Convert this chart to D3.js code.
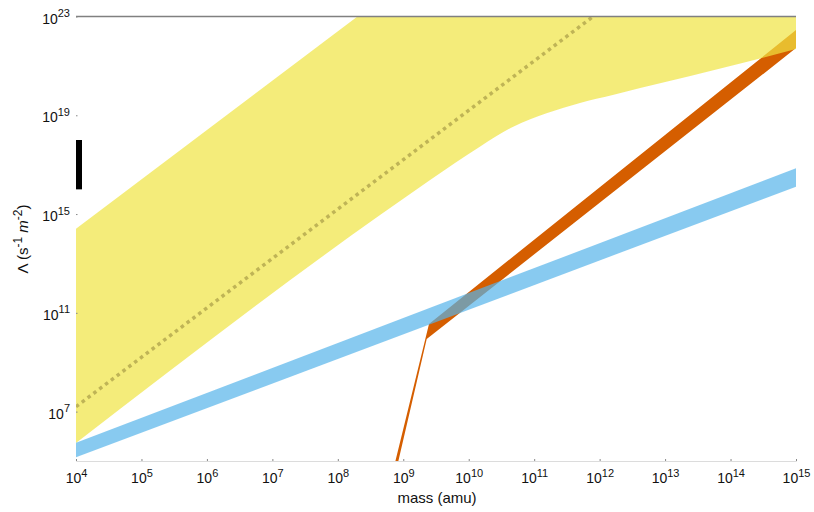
<!DOCTYPE html>
<html>
<head>
<meta charset="utf-8">
<script src="https://cdn.jsdelivr.net/npm/d3@7"></script>
<style>
  html, body { margin: 0; padding: 0; background: #fff; }
  svg { display: block; font-family: "Liberation Sans", Arial, Helvetica, sans-serif; }
</style>
</head>
<body>
<svg id="chart" width="814" height="512"></svg>
<script>
// Axis ticks (log10 exponents)
const massTickExps = [4, 5, 6, 7, 8, 9, 10, 11, 12, 13, 14, 15];
const rateTickExps = [7, 11, 15, 19, 23];

// Yellow region: [log10 mass, log10 rate]
const yellowLower = [[4, 5.73], [8.645, 14.96], [9.41, 16.38], [10.17, 17.73], [10.68, 18.54],
                     [11.20, 19.09], [11.70, 19.50], [12.20, 19.82], [12.62, 20.10], [14.15, 21.10], [15, 21.68]];
const yellowUpper = [[4, 14.41], [8.3, 23.0], [15, 23.0]];
// Central estimate (dotted)
const yellowCentral = [[4, 7.2], [11.9, 23.0]];

// Blue band
const blueLower = [[4, 5.15], [15, 16.11]];
const blueUpper = [[4, 5.74], [15, 16.85]];

// Orange band (steep rise, then linear growth)
const orangeLower = [[8.925, 5.0], [9.358, 9.94], [15, 21.72]];
const orangeUpper = [[8.88, 5.0], [9.393, 10.55], [15, 22.45]];

// Vertical bar at the low-mass end
const barMassExp = 4;
const barRangeExps = [16, 18];

const svg = d3.select("#chart");
const x = d3.scaleLog().domain([1e4, 1e15]).range([76, 796]);
const y = d3.scaleLog().domain([1e5, 1e23]).range([461, 16.5]);

const px = d => x(Math.pow(10, d[0]));
const py = d => y(Math.pow(10, d[1]));

svg.append("defs").append("clipPath").attr("id", "plot")
  .append("rect").attr("x", x.range()[0]).attr("y", y.range()[1])
  .attr("width", x.range()[1] - x.range()[0]).attr("height", y.range()[0] - y.range()[1]);

const plot = svg.append("g").attr("clip-path", "url(#plot)");
const lin = d3.line().x(px).y(py);

function band(lower, upper, curve) {
  const lowerPath = d3.line().x(px).y(py).curve(curve || d3.curveLinear)(lower);
  const upperPath = lin(upper.slice().reverse());
  return lowerPath + "L" + upperPath.slice(1) + "Z";
}

// Orange band
plot.append("path").attr("d", band(orangeLower, orangeUpper)).attr("fill", "#D55E00");

// Yellow region
plot.append("path").attr("d", band(yellowLower, yellowUpper, d3.curveMonotoneX))
  .attr("fill", "#F0E442").attr("fill-opacity", 0.7);

// Blue band
plot.append("path").attr("d", band(blueLower, blueUpper))
  .attr("fill", "#56B4E9").attr("fill-opacity", 0.7);

// Dotted central line
plot.append("path").attr("d", lin(yellowCentral))
  .attr("fill", "none").attr("stroke", "#bfb456").attr("stroke-width", 3.5)
  .attr("stroke-dasharray", "3.5,3.8");

// Black bar
svg.append("line")
  .attr("x1", x(Math.pow(10, barMassExp)) + 3).attr("x2", x(Math.pow(10, barMassExp)) + 3)
  .attr("y1", y(Math.pow(10, barRangeExps[0]))).attr("y2", y(Math.pow(10, barRangeExps[1])))
  .attr("stroke", "#000").attr("stroke-width", 6);

// Top reference line
svg.append("line")
  .attr("x1", x.range()[0]).attr("x2", x.range()[1])
  .attr("y1", y(1e23)).attr("y2", y(1e23))
  .attr("stroke", "#808080").attr("stroke-width", 1.5);

function powLabel(sel, exp, baseSize, supSize, rise) {
  sel.text(null);
  sel.append("tspan").attr("font-size", baseSize).text("10");
  sel.append("tspan").attr("font-size", supSize).attr("dy", -rise).text(exp);
}

// X axis
const xAxis = svg.append("g").attr("transform", `translate(0,${y.range()[0]})`)
  .call(d3.axisBottom(x).tickValues(massTickExps.map(e => Math.pow(10, e)))
    .tickSize(-2).tickPadding(0).tickFormat(""));
xAxis.select(".domain").attr("stroke", "#dcdcdc").attr("stroke-width", 1);
xAxis.selectAll(".tick line").attr("stroke", "#888").attr("stroke-width", 1);
xAxis.selectAll(".tick text").remove();
xAxis.selectAll(".tick").append("text")
  .attr("y", 22).attr("text-anchor", "middle").attr("fill", "#111")
  .each(function(d) { powLabel(d3.select(this), Math.round(Math.log10(d)), 14, 11, 6.5); });

// Y axis
const yAxis = svg.append("g").attr("transform", `translate(${x.range()[0]},0)`)
  .call(d3.axisLeft(y).tickValues(rateTickExps.map(e => Math.pow(10, e)))
    .tickSize(-1.5).tickFormat(""));
yAxis.select(".domain").remove();
yAxis.selectAll(".tick line").attr("stroke", "#888");
yAxis.selectAll(".tick text").remove();
yAxis.selectAll(".tick").append("text")
  .attr("x", -6).attr("y", 6.5).attr("text-anchor", "end").attr("fill", "#111")
  .each(function(d) { powLabel(d3.select(this), Math.round(Math.log10(d)), 14, 11, 6.5); });

// Axis titles
svg.append("text").attr("x", 437).attr("y", 503).attr("text-anchor", "middle")
  .attr("font-size", 15).attr("fill", "#111").text("mass (amu)");

const yt = svg.append("text").attr("transform", "translate(28,239) rotate(-90)")
  .attr("text-anchor", "middle").attr("font-size", 15).attr("fill", "#111");
yt.append("tspan").text("Λ (s");
yt.append("tspan").attr("font-size", 12).attr("dy", -6).text("-1");
yt.append("tspan").attr("dy", 6).text(" ");
yt.append("tspan").attr("font-style", "italic").text("m");
yt.append("tspan").attr("font-size", 12).attr("dy", -6).text("-2");
yt.append("tspan").attr("dy", 6).text(")");
</script>
</body>
</html>
